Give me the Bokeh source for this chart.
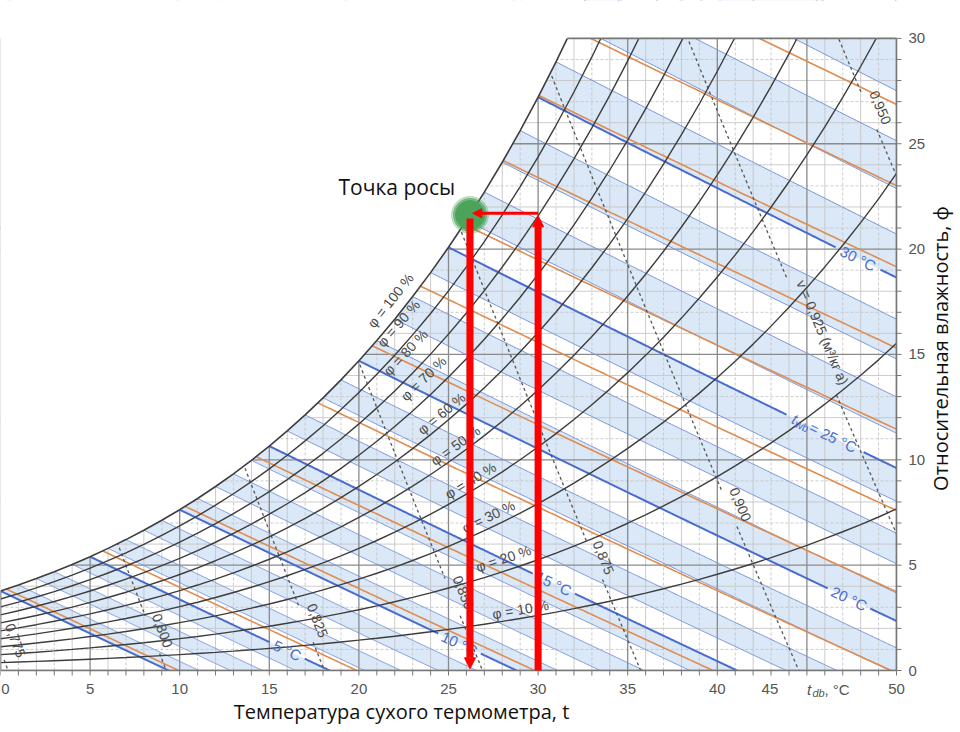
import numpy as np
from bokeh.plotting import figure
from bokeh.models import Arrow, NormalHead, Range1d
from bokeh.core.properties import value
from bokeh.embed import file_html
from bokeh.resources import INLINE

# ---------------- data ----------------
# saturation humidity ratio, g/kg, at dry-bulb temperature (degC)
sat_t = list(range(0, 51))
sat_w = [3.775, 4.060, 4.364, 4.689, 5.034, 5.403, 5.796, 6.213, 6.657, 7.129,
         7.632, 8.165, 8.732, 9.334, 9.973, 10.650, 11.369, 12.131, 12.938, 13.793,
         14.699, 15.658, 16.673, 17.748, 18.884, 20.086, 21.358, 22.701, 24.122, 25.623,
         27.209, 28.885, 30.655, 32.525, 34.50, 36.59, 38.79, 41.11, 43.57, 46.16,
         48.89, 51.78, 54.82, 58.04, 61.43, 65.01, 68.79, 72.78, 76.99, 81.44, 86.29]
rh_levels = [10, 20, 30, 40, 50, 60, 70, 80, 90, 100]
rh_texts = ["φ = 10 %", "φ = 20 %", "φ = 30 %", "φ = 40 %", "φ = 50 %",
            "φ = 60 %", "φ = 70 %", "φ = 80 %", "φ = 90 %", "φ = 100 %"]
wb_levels = list(range(0, 36))
wb_bold = [0, 5, 10, 15, 20, 25, 30]
wb_label_levels = [5, 10, 15, 20, 30]
wb_label_texts = ["5 °C", "10 °C", "15 °C", "20 °C", "30 °C"]
h_levels = [10, 20, 30, 40, 50, 60, 70, 80, 90, 100, 110, 120]
v_levels = [0.775, 0.800, 0.825, 0.850, 0.875, 0.900, 0.925, 0.950]
v_texts = ["0,775", "0,800", "0,825", "0,850", "0,875", "0,900",
           "v = 0,925 (м³/кг a)", "0,950"]
x_ticks = [0, 5, 10, 15, 20, 25, 30, 35, 40, 50]
x_tick_labels = ["0", "5", "10", "15", "20", "25", "30", "35", "40", "50"]
y_ticks = [0, 5, 10, 15, 20, 25, 30]
y_tick_labels = ["0", "5", "10", "15", "20", "25", "30"]
t_air = 30.0      # dry-bulb temperature of the air, degC
t_dew = 26.2      # dew point, degC
w_air = 21.7      # humidity ratio, g/kg

# ---------------- layout / style ----------------
W_PX, H_PX = 958, 730
KX = 17.92     # px per degC
KY = 21.07     # px per g/kg
Y0 = 670.0     # pixel row of W = 0
P = 101.325
T = np.array(sat_t, dtype=float)
WS = np.array(sat_w, dtype=float)
PS = P * WS / (622.0 + WS)

def ref(x, y):
    return x / KX, (Y0 - y) / KY

rh_label_px = [(520, 609), (503, 558), (488, 516), (470, 480), (455, 445),
               (441, 413), (423, 378), (405, 352), (398, 323), (390, 300)]
v_label_px = [(15, 640), (162, 630), (317, 620), (463, 592), (603, 557),
              (740, 504), (822, 332), (880, 107)]
v_label_len = [36, 36, 36, 36, 36, 36, 120, 36]
wb_label_y = {5: 650, 10: 643, 15: 583, 20: 598, 25: 433, 30: 258}
wb_label_len = {5: 30, 10: 38, 15: 38, 20: 38, 25: 76, 30: 38}
x_label_shift = {0: 5.0}   # px, keeps the first tick label inside the page

def rh_curve(phi):
    pv = phi / 100.0 * PS
    return T.copy(), 622.0 * pv / (P - pv)

def wb_line(tw, n=500):
    ws = np.interp(tw, T, WS) / 1000.0
    a = (2501 - 2.326 * tw) * ws
    t0 = tw + a / 1.006
    t = np.linspace(tw, t0, n)
    W = (a - 1.006 * (t - tw)) / (2501 + 1.86 * t - 4.186 * tw) * 1000.0
    return t, W

def h_line(h, n=300):
    t = np.linspace(-2, h / 1.006, n)
    return t, (h - 1.006 * t) / (2501 + 1.86 * t) * 1000.0

def v_line(v, n=600):
    t0 = v * P / 0.287042 - 273.15
    t = np.linspace(t0 - 22, t0, n)
    W = (v * P / (0.287042 * (t + 273.15)) - 1) / 1.607858 * 1000.0
    return t, W

def cut(t, W, cx, cy, r):
    d = np.hypot((t - cx) * KX, (W - cy) * KY)
    t = t.astype(float).copy()
    W = W.astype(float).copy()
    t[d < r] = np.nan
    W[d < r] = np.nan
    return t, W

def angle_at(t, W, cx, cy):
    d = np.hypot((t - cx) * KX, (W - cy) * KY)
    i = int(np.nanargmin(d))
    i = min(max(i, 1), len(t) - 2)
    return float(np.arctan2((W[i + 1] - W[i - 1]) * KY, (t[i + 1] - t[i - 1]) * KX))

p = figure(width=W_PX, height=H_PX,
           x_range=Range1d(0, W_PX / KX), y_range=Range1d((Y0 - H_PX) / KY, Y0 / KY),
           output_backend="svg", toolbar_location=None,
           x_axis_location=None, y_axis_location=None,
           min_border_left=0, min_border_right=0, min_border_top=0, min_border_bottom=0,
           background_fill_color="white", border_fill_color="white")
p.outline_line_color = None
p.xgrid.visible = False
p.ygrid.visible = False

# shaded wet-bulb bands
bx, by = [], []
for k in range(0, 35, 2):
    ta, wa = wb_line(k)
    tb, wb = wb_line(k + 1)
    bx.append(np.concatenate([ta, tb[::-1]]))
    by.append(np.concatenate([wa, wb[::-1]]))
p.patches(bx, by, fill_color="#dae8f7", line_color=None)

# grid
GRID = "#c6c6c6"
ev = [v for v in range(51) if v % 5 and v % 2 == 0]
od = [v for v in range(51) if v % 5 and v % 2 == 1]
mj = [v for v in range(0, 51, 5)]
p.segment(x0=ev, y0=[0] * len(ev), x1=ev, y1=[30] * len(ev), line_color=GRID, line_width=0.9)
p.segment(x0=od, y0=[0] * len(od), x1=od, y1=[30] * len(od), line_color=GRID, line_width=0.9, line_dash="3 2")
hev = [v for v in range(31) if v % 5 and v % 2 == 0]
hod = [v for v in range(31) if v % 5 and v % 2 == 1]
hmj = [v for v in range(0, 31, 5)]
p.segment(x0=[0] * len(hev), y0=hev, x1=[50] * len(hev), y1=hev, line_color=GRID, line_width=0.9)
p.segment(x0=[0] * len(hod), y0=hod, x1=[50] * len(hod), y1=hod, line_color=GRID, line_width=0.9, line_dash="3 2")
p.segment(x0=mj, y0=[0] * len(mj), x1=mj, y1=[30] * len(mj), line_color="#8a8a8a", line_width=1.3)
p.segment(x0=[0] * len(hmj), y0=hmj, x1=[50] * len(hmj), y1=hmj, line_color="#8a8a8a", line_width=1.3)

# thin wet-bulb lines
xs, ys = [], []
for tw in wb_levels:
    if tw in wb_bold:
        continue
    t, W = wb_line(tw)
    xs.append(t); ys.append(W)
p.multi_line(xs, ys, line_color="#7893d8", line_width=1.0)

# enthalpy lines
xs, ys = [], []
for h in h_levels:
    t, W = h_line(h)
    xs.append(t); ys.append(W)
p.multi_line(xs, ys, line_color="#df8d50", line_width=1.6)

# bold wet-bulb lines with label gaps
xs, ys = [], []
wb_lab = {}
for tw in wb_bold:
    t, W = wb_line(tw)
    if tw in wb_label_y:
        _, wc = ref(0, wb_label_y[tw])
        tc = float(np.interp(wc, W[::-1], t[::-1]))
        ang = angle_at(t, W, tc, wc)
        wb_lab[tw] = (tc, wc, ang)
        t, W = cut(t, W, tc, wc, wb_label_len[tw] / 2 + 4)
    xs.append(t); ys.append(W)
p.multi_line(xs, ys, line_color="#4a6ccc", line_width=2.0)

# specific volume lines (dashed) with label gaps
xs, ys = [], []
v_lab = []
for v, (lx, ly), L in zip(v_levels, v_label_px, v_label_len):
    t, W = v_line(v)
    cx, cy = ref(lx, ly)
    ang = angle_at(t, W, cx, cy)
    v_lab.append((cx, cy, ang))
    t, W = cut(t, W, cx, cy, L / 2 + 4)
    xs.append(t); ys.append(W)
p.multi_line(xs, ys, line_color="#555555", line_width=1.3, line_dash="3 3")

# relative humidity curves
xs, ys = [], []
rh_lab = []
for r, (lx, ly) in zip(rh_levels, rh_label_px):
    t, W = rh_curve(r)
    cx, cy = ref(lx, ly)
    td = np.linspace(0, 50, 1001)
    wd = np.interp(td, t, W)
    rh_lab.append((cx, cy, angle_at(td, wd, cx, cy)))
    if r < 100:
        xs.append(t); ys.append(W)
p.multi_line(xs, ys, line_color="#3d3d3d", line_width=1.4)

# mask above the saturation curve, then the saturation curve itself
mx = [-2.0] + list(T[:33]) + [32.0, -2.0]
my = [WS[0]] + list(WS[:33]) + [40.0, 40.0]
p.patch(mx, my, fill_color="white", line_color=None)
p.line(T[:34], WS[:34], line_color="#3d3d3d", line_width=1.6)

# masks outside the chart rectangle
p.quad(left=[50, -3, -3, -3], right=[60, 60, 60, 0], bottom=[-5, 30, -5, -5], top=[40, 40, 0, 40],
       fill_color="white", line_color=None)

# borders
t30 = float(np.interp(30.0, WS, T))
BC = "#777777"
p.segment(x0=[0, t30, 0, 50], y0=[0, 30, 0, 0], x1=[0, 50, 50, 50], y1=[WS[0], 30, 0, 30],
          line_color=BC, line_width=1.6)

# ticks
tb_minor = list(range(51))
p.segment(x0=tb_minor, y0=[0] * 51, x1=tb_minor, y1=[-5.0 / KY] * 51, line_color=BC, line_width=1.0)
tr_minor = list(range(31))
p.segment(x0=[50] * 31, y0=tr_minor, x1=[50 + 5.0 / KX] * 31, y1=tr_minor, line_color=BC, line_width=1.0)

LF = value("Liberation Sans")
OF = value("Open Sans")
TICKC = "#555555"
ty = -18.5 / KY
xt_pos = [v + x_label_shift.get(v, 0.0) / KX for v in x_ticks]
p.text(x=xt_pos, y=[ty] * len(x_ticks), text=x_tick_labels, text_font=LF, text_font_size="15px",
       text_color=TICKC, text_align="center", text_baseline="middle")
p.text(x=[45 - 37 / KX], y=[ty], text=["45"], text_font=LF, text_font_size="15px",
       text_color=TICKC, text_align="center", text_baseline="middle")
p.text(x=[45.0], y=[ty], text=["t"], text_font=LF, text_font_size="15px", text_font_style="italic",
       text_color=TICKC, text_align="left", text_baseline="middle")
p.text(x=[45.0 + 5.5 / KX], y=[ty - 4.0 / KY], text=["db"], text_font=LF, text_font_size="11px",
       text_font_style="italic", text_color=TICKC, text_align="left", text_baseline="middle")
p.text(x=[45.0 + 17.5 / KX], y=[ty], text=[", °C"], text_font=LF, text_font_size="15px",
       text_color=TICKC, text_align="left", text_baseline="middle")
p.text(x=[50 + 12.0 / KX] * len(y_ticks), y=y_ticks, text=y_tick_labels, text_font=LF,
       text_font_size="15px", text_color=TICKC, text_align="left", text_baseline="middle")

# axis titles
p.text(x=[401 / KX], y=[(Y0 - 711) / KY], text=["Температура сухого термометра, t"], text_font=OF,
       text_font_size="20px", text_color="#111111", text_align="center", text_baseline="middle")
p.text(x=[940 / KX], y=[(Y0 - 348) / KY], text=["Относительная влажность, ф"], text_font=OF,
       text_font_size="20px", text_color="#111111", angle=[np.pi / 2], text_align="center",
       text_baseline="middle")

# chart labels
p.text(x=[a[0] for a in rh_lab], y=[a[1] for a in rh_lab], text=rh_texts,
       angle=[a[2] for a in rh_lab], text_font=LF, text_font_size="14px",
       text_color="#4a4a4a", text_align="center", text_baseline="middle")
p.text(x=[a[0] for a in v_lab], y=[a[1] for a in v_lab], text=v_texts,
       angle=[a[2] for a in v_lab], text_font=LF, text_font_size="14px",
       text_color="#4a4a4a", text_align="center", text_baseline="middle")
p.text(x=[wb_lab[k][0] for k in wb_label_levels], y=[wb_lab[k][1] for k in wb_label_levels],
       text=wb_label_texts, angle=[wb_lab[k][2] for k in wb_label_levels], text_font=LF,
       text_font_size="15px", text_color="#4a6ccc", text_align="center", text_baseline="middle")

# "t_wb = 25 °C" composed label
tc, wc, ang = wb_lab[25]
c, s = np.cos(ang), np.sin(ang)
s0 = -wb_label_len[25] / 2 + 2
pieces = [("t", "15px", "italic", 0.0, 0.0), ("wb", "11px", "normal", 4.8, 3.5),
          (" = 25 °C", "15px", "normal", 19.5, 0.0)]
for txt, fs, st, off, dn in pieces:
    dx = (s0 + off) * c + dn * s
    dy = (s0 + off) * s - dn * c
    p.text(x=[tc + dx / KX], y=[wc + dy / KY], text=[txt], angle=[ang], text_font=LF,
           text_font_size=fs, text_font_style=st, text_color="#4a6ccc",
           text_align="left", text_baseline="middle")

# dew point marker, caption and arrows
p.scatter([t_dew], [w_air - 0.08], size=37, color="#4ca35a", alpha=0.3)
p.scatter([t_dew], [w_air - 0.08], size=33, color="#4ca35a", alpha=0.6)
p.scatter([t_dew], [w_air - 0.08], size=29, color="#4ca35a", alpha=1.0)
p.text(x=[338 / KX], y=[(Y0 - 186) / KY], text=["Точка росы"], text_font=OF,
       text_font_size="21px", text_color="#111111", text_align="left", text_baseline="middle")

RED = "#ff0000"
p.add_layout(Arrow(x_start=t_dew, y_start=w_air - 0.25, x_end=t_dew, y_end=0.08,
                   line_color=RED, line_width=7,
                   end=NormalHead(size=11, fill_color=RED, line_color=RED)))
p.add_layout(Arrow(x_start=t_air, y_start=0.0, x_end=t_air, y_end=w_air - 0.12,
                   line_color=RED, line_width=7,
                   end=NormalHead(size=11, fill_color=RED, line_color=RED)))
p.add_layout(Arrow(x_start=t_air, y_start=w_air, x_end=t_dew + 0.15, y_end=w_air,
                   line_color=RED, line_width=3,
                   end=NormalHead(size=9, fill_color=RED, line_color=RED)))

open("out.html", "w").write(file_html(p, INLINE))
